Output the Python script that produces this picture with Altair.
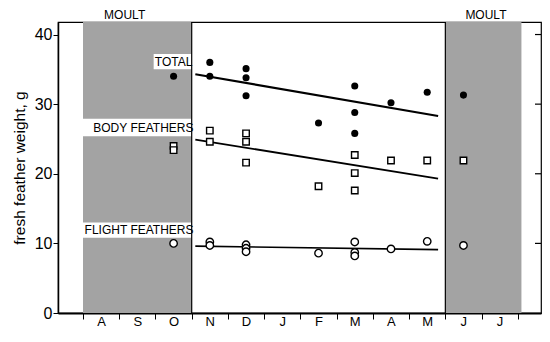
import altair as alt
import pandas as pd

# ---------------- data ----------------
month_keys = ["Aug", "Sep", "Oct", "Nov", "Dec", "Jan", "Feb", "Mar", "Apr", "May", "Jun", "Jul"]
month_labels = ["A", "S", "O", "N", "D", "J", "F", "M", "A", "M", "J", "J"]
y_ticks = [0, 10, 20, 30, 40]
right_ticks = [10, 20, 30, 40]

total_month = ["Oct", "Nov", "Nov", "Dec", "Dec", "Dec", "Feb", "Mar", "Mar", "Mar", "Apr", "May", "Jun"]
total_weight = [34.0, 36.0, 34.0, 35.1, 33.8, 31.2, 27.3, 32.6, 28.8, 25.8, 30.2, 31.7, 31.3]

body_month = ["Oct", "Oct", "Nov", "Nov", "Dec", "Dec", "Dec", "Feb", "Mar", "Mar", "Mar", "Apr", "May", "Jun"]
body_weight = [24.0, 23.4, 26.2, 24.6, 25.8, 24.6, 21.6, 18.2, 22.7, 20.1, 17.6, 21.9, 21.9, 21.9]

flight_month = ["Oct", "Nov", "Nov", "Dec", "Dec", "Dec", "Feb", "Mar", "Mar", "Mar", "Apr", "May", "Jun"]
flight_weight = [10.0, 10.2, 9.7, 9.8, 9.3, 8.8, 8.6, 10.2, 8.7, 8.2, 9.2, 10.3, 9.7]

# regression lines (month-index positions, fitted weights)
fit_x = [3.1, 9.8]
total_fit = [34.3, 28.3]
body_fit = [24.9, 19.3]
flight_fit = [9.6, 9.1]

# moult periods (month-boundary index)
moult_start = [0.0, 10.0]
moult_end = [3.0, 12.1]

series_names = ["TOTAL", "BODY FEATHERS", "FLIGHT FEATHERS"]

# ---------------- frames ----------------
centre = {k: i + 0.5 for i, k in enumerate(month_keys)}


def pts(months, weights):
    return pd.DataFrame({"x": [centre[m] for m in months], "w": weights})


df_total = pts(total_month, total_weight)
df_body = pts(body_month, body_weight)
df_flight = pts(flight_month, flight_weight)
df_fit = pd.DataFrame({"x": fit_x * 3,
                       "w": total_fit + body_fit + flight_fit,
                       "s": ["total"] * 2 + ["body"] * 2 + ["flight"] * 2})
df_moult = pd.DataFrame({"x": moult_start, "x2": moult_end})
df_edges = pd.DataFrame({"x": [moult_end[0], moult_start[1]]})
df_rt = pd.DataFrame({"w": right_ticks})

# annotation layout (white label bands behind series names)
df_bands = pd.DataFrame({"x": [1.95, -0.1, -0.1], "x2": [3.0, 3.0, 3.0],
                         "w": [35.0, 25.4, 10.8], "w2": [37.2, 27.9, 13.0]})
df_labels = pd.DataFrame({"t": series_names, "x": [3.02, 3.05, 3.05],
                          "w": [36.1, 26.6, 11.9]})
df_moult_lab = pd.DataFrame({"t": ["MOULT", "MOULT"], "x": [1.15, 11.12]})

W, H = 483, 291
FONT = "Liberation Sans"
xs = alt.Scale(domain=[-0.69, 12.64], nice=False, zero=False)
ys = alt.Scale(domain=[0, 41.8], nice=False, zero=True)

label_arr = "[" + ",".join("'%s'" % m for m in month_labels) + ",'']"
x_axis = alt.Axis(values=list(range(13)), labelExpr=label_arr + "[datum.value]",
                  labelOffset=18, ticks=True, tickSize=6, tickColor="black",
                  domainColor="black", domainWidth=2, labelFontSize=13,
                  labelColor="black", labelPadding=-4, title=None, grid=False,
                  labelFont=FONT)
y_axis = alt.Axis(values=y_ticks, tickSize=5, tickColor="black", domainColor="black",
                  domainWidth=1.5, labelFontSize=16, labelColor="black", labelPadding=1,
                  title="fresh feather weight, g", titleFontSize=15.5, titleFontWeight="normal",
                  titleColor="black", titlePadding=7, grid=False, labelFont=FONT,
                  titleFont=FONT)

X = lambda: alt.X("x:Q", scale=xs, axis=x_axis)
Y = lambda: alt.Y("w:Q", scale=ys, axis=y_axis)

moult = alt.Chart(df_moult).mark_rect(color="#a3a3a3").encode(
    x=X(), x2="x2:Q", y=alt.value(0), y2=alt.value(H))

moult_edges = alt.Chart(df_edges).mark_rule(color="black", strokeWidth=1.2).encode(
    x=X(), y=alt.value(0), y2=alt.value(H))

bands = alt.Chart(df_bands).mark_rect(color="white").encode(
    x=X(), x2="x2:Q", y=Y(), y2="w2:Q")

labels = alt.Chart(df_labels).mark_text(align="right", baseline="middle", font=FONT,
                                        fontSize=12, color="black").encode(
    x=X(), y=Y(), text="t:N")

moult_lab = alt.Chart(df_moult_lab).mark_text(align="center", baseline="middle", font=FONT,
                                              fontSize=12, color="black").encode(
    x=X(), y=alt.value(-7), text="t:N")

fits = alt.Chart(df_fit).mark_line(color="black").encode(
    x=X(), y=Y(), detail="s:N",
    strokeWidth=alt.StrokeWidth("s:N", scale=alt.Scale(domain=["total", "body", "flight"],
                                                       range=[2.2, 1.6, 1.8]), legend=None),
)

total_pts = alt.Chart(df_total).mark_point(shape="circle", filled=True, color="black",
                                           size=50, opacity=1).encode(x=X(), y=Y())
body_pts = alt.Chart(df_body).mark_point(shape="square", filled=False, fill="white",
                                         color="black", strokeWidth=1.4, size=42,
                                         opacity=1, fillOpacity=1).encode(x=X(), y=Y())
flight_pts = alt.Chart(df_flight).mark_point(shape="circle", filled=False, fill="white",
                                             color="black", strokeWidth=1.4, size=55,
                                             opacity=1, fillOpacity=1).encode(x=X(), y=Y())

rticks = alt.Chart(df_rt).mark_rule(color="black", strokeWidth=1.2).encode(
    x=alt.value(W - 6), x2=alt.value(W), y=Y())

chart = alt.layer(moult, bands, moult_edges, fits, total_pts, body_pts, flight_pts,
                  rticks, labels, moult_lab).properties(
    width=W, height=H,
    autosize=alt.AutoSizeParams(type="none"),
    padding={"left": 50, "top": 14, "right": 1, "bottom": 17},
).configure_view(stroke="black", strokeWidth=1.2)

chart.save("out.html", embed_options={"renderer": "svg", "actions": False})
